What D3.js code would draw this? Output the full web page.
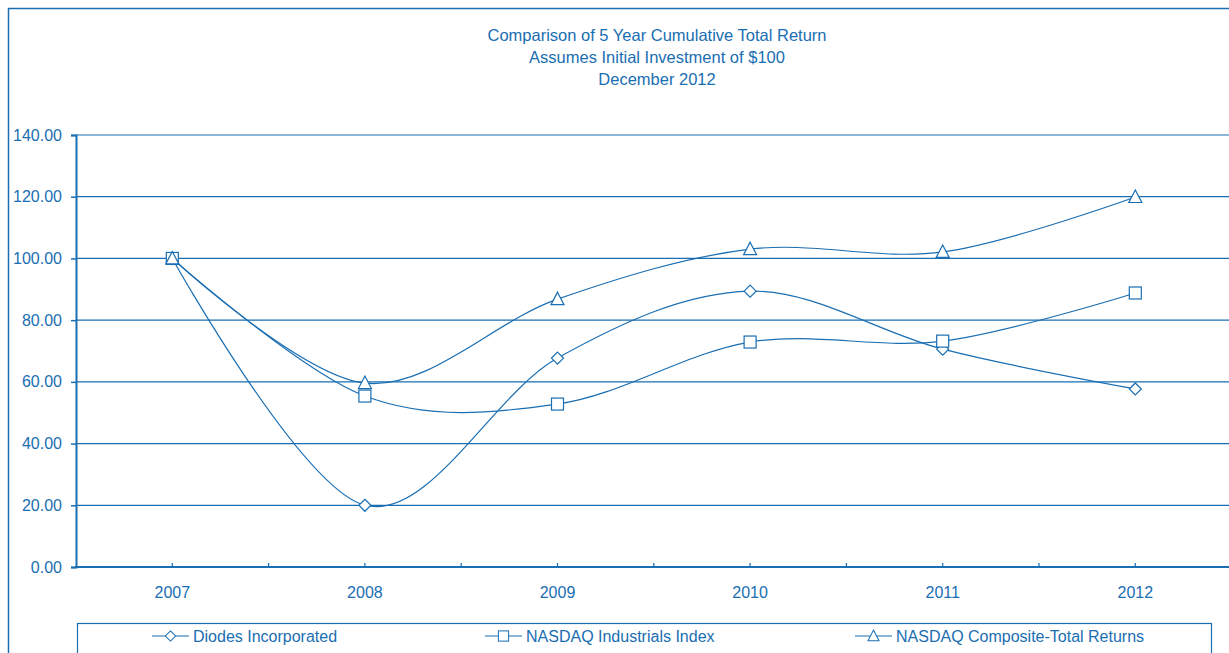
<!DOCTYPE html>
<html>
<head>
<meta charset="utf-8">
<script src="https://cdn.jsdelivr.net/npm/d3@7"></script>
<style>
  body { margin: 0; background: #fff; }
  text { font-family: "Liberation Sans", Arial, sans-serif; fill: #1a6eb2; }
</style>
</head>
<body>
<svg width="1229" height="653"></svg>
<script>
var years = ["2007", "2008", "2009", "2010", "2011", "2012"];
var diodes = [100, 20, 67.7, 89.4, 70.6, 57.7];
var industrials = [100, 55.4, 52.8, 72.9, 73.2, 88.8];
var composite = [100, 59.6, 86.8, 103.0, 102.1, 119.9];
var seriesNames = ["Diodes Incorporated", "NASDAQ Industrials Index", "NASDAQ Composite-Total Returns"];
var titleLines = ["Comparison of 5 Year Cumulative Total Return", "Assumes Initial Investment of $100", "December 2012"];

var blue = "#1a6eb2";
var svg = d3.select("svg");

// outer frame (runs off the right / bottom edge)
svg.append("rect")
  .attr("x", 8.5).attr("y", 8.5)
  .attr("width", 1260).attr("height", 700)
  .attr("fill", "none").attr("stroke", blue).attr("stroke-width", 1.5);

// title
svg.append("g").selectAll("text")
  .data(titleLines)
  .enter().append("text")
  .attr("x", 657).attr("y", function(d, i) { return 41 + i * 22; })
  .attr("text-anchor", "middle")
  .style("font-size", "16.5px")
  .text(function(d) { return d; });

var x = d3.scaleBand().domain(years).range([76, 1231.6]);
var y = d3.scaleLinear().domain([0, 140]).range([567, 135]);
var bw = x.bandwidth();

// gridlines
svg.append("g").selectAll("line")
  .data(y.ticks(7).filter(function(d) { return d > 0; }))
  .enter().append("line")
  .attr("x1", 76).attr("x2", 1232)
  .attr("y1", function(d) { return y(d); }).attr("y2", function(d) { return y(d); })
  .attr("stroke", blue).attr("stroke-width", 1.2);

// y axis
var yAxis = svg.append("g")
  .attr("transform", "translate(76,0)")
  .call(d3.axisLeft(y).ticks(7).tickSize(5).tickPadding(9).tickFormat(d3.format(".2f")));
yAxis.select(".domain").attr("stroke", blue).attr("stroke-width", 2);
yAxis.selectAll(".tick line").attr("stroke", blue).attr("stroke-width", 1.5);
yAxis.selectAll("text").style("font-size", "16px").attr("fill", blue)
  .style("font-family", "'Liberation Sans', Arial, sans-serif");

// x axis line + ticks at band centres and edges
svg.append("line")
  .attr("x1", 75).attr("x2", 1232).attr("y1", y(0)).attr("y2", y(0))
  .attr("stroke", blue).attr("stroke-width", 2);
var xTicks = [];
years.forEach(function(yr) { xTicks.push(x(yr) + bw / 2); if (yr !== years[0]) xTicks.push(x(yr)); });
svg.append("g").selectAll("line")
  .data(xTicks)
  .enter().append("line")
  .attr("x1", function(d) { return d; }).attr("x2", function(d) { return d; })
  .attr("y1", y(0)).attr("y2", y(0) - 4)
  .attr("stroke", blue).attr("stroke-width", 1.2);
svg.append("g").selectAll("text")
  .data(years)
  .enter().append("text")
  .attr("x", function(d) { return x(d) + bw / 2; })
  .attr("y", 598)
  .attr("text-anchor", "middle")
  .style("font-size", "16px")
  .text(function(d) { return d; });

// series
var series = [
  { name: seriesNames[0], values: diodes, shape: "diamond" },
  { name: seriesNames[1], values: industrials, shape: "square" },
  { name: seriesNames[2], values: composite, shape: "triangle" }
];

var line = d3.line()
  .x(function(d, i) { return x(years[i]) + bw / 2; })
  .y(function(d) { return y(d); })
  .curve(d3.curveCatmullRom.alpha(0));

function marker(sel, shape) {
  if (shape === "diamond") {
    sel.append("path").attr("d", "M0,-6L6,0L0,6L-6,0Z");
  } else if (shape === "square") {
    sel.append("rect").attr("x", -6).attr("y", -6).attr("width", 12).attr("height", 12);
  } else {
    sel.append("path").attr("d", "M0,-7L6.5,5.5L-6.5,5.5Z");
  }
  sel.selectAll("*").attr("fill", "#fff").attr("stroke", blue).attr("stroke-width", 1.2);
}

series.forEach(function(s) {
  svg.append("path")
    .datum(s.values)
    .attr("d", line)
    .attr("fill", "none")
    .attr("stroke", blue)
    .attr("stroke-width", 1.2);
});
series.forEach(function(s) {
  s.values.forEach(function(v, i) {
    var g = svg.append("g")
      .attr("transform", "translate(" + (x(years[i]) + bw / 2) + "," + y(v) + ")");
    marker(g, s.shape);
  });
});

// legend
svg.append("rect")
  .attr("x", 77.5).attr("y", 623.5)
  .attr("width", 1134).attr("height", 50)
  .attr("fill", "none").attr("stroke", blue).attr("stroke-width", 1.2);

var legendX = [152, 485, 855];
series.forEach(function(s, i) {
  var g = svg.append("g").attr("transform", "translate(" + legendX[i] + ",636)");
  g.append("line").attr("x1", 0).attr("x2", 37).attr("y1", 0).attr("y2", 0)
    .attr("stroke", blue).attr("stroke-width", 1.2);
  var m = g.append("g").attr("transform", "translate(18.5,0) scale(0.85)");
  marker(m, s.shape);
  g.append("text").attr("x", 41).attr("y", 5.5)
    .style("font-size", "16px")
    .text(s.name);
});
</script>
</body>
</html>
